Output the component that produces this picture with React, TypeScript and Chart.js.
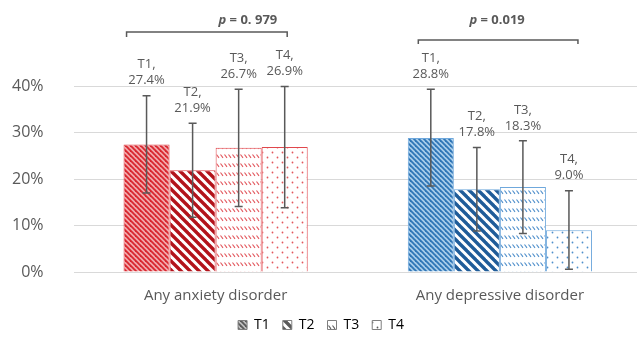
import React, { useEffect, useRef } from "react";
import { Chart, registerables } from "chart.js";

Chart.register(...registerables);

// ---------- data ----------
const categories = ["Any anxiety disorder", "Any depressive disorder"];
const seriesNames = ["T1", "T2", "T3", "T4"];

const t1Values = [0.274, 0.288];
const t2Values = [0.219, 0.178];
const t3Values = [0.267, 0.183];
const t4Values = [0.269, 0.09];

const t1Low = [0.17, 0.185];
const t1High = [0.379, 0.393];
const t2Low = [0.118, 0.088];
const t2High = [0.32, 0.268];
const t3Low = [0.141, 0.083];
const t3High = [0.393, 0.282];
const t4Low = [0.138, 0.006];
const t4High = [0.399, 0.175];

const yTicks = [0, 0.1, 0.2, 0.3, 0.4];
const yTickLabels = ["0%", "10%", "20%", "30%", "40%"];

const pValueTexts = ["0. 979", "0.019"];

const values = [t1Values, t2Values, t3Values, t4Values];
const lows = [t1Low, t2Low, t3Low, t4Low];
const highs = [t1High, t2High, t3High, t4High];

// ---------- styles ----------
const FONT = "'Open Sans', sans-serif";
const TEXT = "#595959";
const RED = "#D8262E";
const RED_SOFT = "#E2565C";
const RED_LIGHT = "#F2A9AC";
const RED_DARK = "#B3131B";
const RED_BORDER = "#E0474C";
const BLUE = "#2E75B6";
const BLUE_SOFT = "#4F8FCB";
const BLUE_LIGHT = "#A9CDEB";
const BLUE_DARK = "#1F5C99";
const BLUE_BORDER = "#6FA8DC";

function makePattern(kind: number, fg: string, bg: string): CanvasPattern {
  const c = document.createElement("canvas");
  let w = 5;
  let h = 5;
  if (kind === 1) { w = 9; h = 9; }
  if (kind === 2) { w = 4; h = 9; }
  if (kind === 3) { w = 10; h = 10; }
  c.width = w;
  c.height = h;
  const g = c.getContext("2d")!;
  g.fillStyle = bg;
  g.fillRect(0, 0, w, h);
  g.strokeStyle = fg;
  g.fillStyle = fg;
  if (kind === 0 || kind === 1) {
    g.lineWidth = kind === 0 ? 1.8 : 3.4;
    for (let k = -1; k <= 1; k++) {
      g.beginPath();
      g.moveTo(-2, -2 + k * w);
      g.lineTo(w + 2, w + 2 + k * w);
      g.stroke();
    }
  } else if (kind === 2) {
    g.lineWidth = 1.1;
    g.beginPath();
    g.moveTo(0.5, 1.5);
    g.lineTo(3, 4.8);
    g.stroke();
  } else {
    g.beginPath();
    g.arc(2.5, 2.5, 0.9, 0, Math.PI * 2);
    g.fill();
    g.beginPath();
    g.arc(7.5, 7.5, 0.9, 0, Math.PI * 2);
    g.fill();
  }
  return g.createPattern(c, "repeat")!;
}

const bracketCfg = [
  { from: -20, to: 2.5, y: 32, drop: 5, textDx: 41 },
  { from: -12.5, to: 9, y: 40, drop: 4, textDx: -1 },
];

const overlayPlugin = {
  id: "overlay",
  afterDatasetsDraw(chart: any) {
    const ctx = chart.ctx as CanvasRenderingContext2D;
    const yScale = chart.scales.y;
    ctx.save();
    // error bars and value labels
    chart.data.datasets.forEach((ds: any, di: number) => {
      const meta = chart.getDatasetMeta(di);
      meta.data.forEach((el: any, ci: number) => {
        const x = el.x;
        const yh = yScale.getPixelForValue(highs[di][ci]);
        const yl = yScale.getPixelForValue(lows[di][ci]);
        ctx.strokeStyle = TEXT;
        ctx.lineWidth = 1.5;
        ctx.beginPath();
        ctx.moveTo(x, yh);
        ctx.lineTo(x, yl);
        ctx.moveTo(x - 4, yh);
        ctx.lineTo(x + 4, yh);
        ctx.moveTo(x - 4, yl);
        ctx.lineTo(x + 4, yl);
        ctx.stroke();
        ctx.fillStyle = TEXT;
        ctx.font = `13px ${FONT}`;
        ctx.textAlign = "center";
        ctx.textBaseline = "middle";
        ctx.fillText(seriesNames[di] + ",", x, yh - 31);
        ctx.fillText((values[di][ci] * 100).toFixed(1) + "%", x, yh - 15);
      });
    });
    // brackets with p values
    const first = chart.getDatasetMeta(0);
    const last = chart.getDatasetMeta(3);
    categories.forEach((_, ci) => {
      const b = bracketCfg[ci];
      const x1 = first.data[ci].x + b.from;
      const x2 = last.data[ci].x + b.to;
      ctx.strokeStyle = TEXT;
      ctx.lineWidth = 1.5;
      ctx.beginPath();
      ctx.moveTo(x1, b.y + b.drop);
      ctx.lineTo(x1, b.y);
      ctx.lineTo(x2, b.y);
      ctx.lineTo(x2, b.y + b.drop);
      ctx.stroke();
      const cx = (x1 + x2) / 2 + b.textDx;
      const rest = " = " + pValueTexts[ci];
      ctx.font = `bold 13px ${FONT}`;
      const wRest = ctx.measureText(rest).width;
      ctx.font = `italic bold 13px ${FONT}`;
      const wP = ctx.measureText("p").width;
      const start = cx - (wP + wRest) / 2;
      ctx.textAlign = "left";
      ctx.textBaseline = "middle";
      ctx.fillStyle = TEXT;
      ctx.fillText("p", start, 20);
      ctx.font = `bold 13px ${FONT}`;
      ctx.fillText(rest, start + wP, 20);
    });
    ctx.restore();
  },
};

export default function App() {
  const ref = useRef<HTMLCanvasElement | null>(null);
  useEffect(() => {
    if (!ref.current) return;
    const redPats = [0, 1, 2, 3].map((k) =>
      makePattern(
        k,
        k === 0 ? RED : k === 1 ? RED_DARK : RED_SOFT,
        k === 0 ? RED_LIGHT : "#FFFFFF"
      )
    );
    const bluePats = [0, 1, 2, 3].map((k) =>
      makePattern(
        k,
        k === 0 ? BLUE : k === 1 ? BLUE_DARK : BLUE_SOFT,
        k === 0 ? BLUE_LIGHT : "#FFFFFF"
      )
    );
    const grayPats = [0, 1, 2, 3].map((k) =>
      makePattern(k, "#595959", k === 0 ? "#BFBFBF" : "#FFFFFF")
    );
    const chart = new Chart(ref.current, {
      type: "bar",
      data: {
        labels: categories,
        datasets: seriesNames.map((name, i) => ({
          label: name,
          data: values[i],
          backgroundColor: [redPats[i], bluePats[i]],
          borderColor: [RED_BORDER, BLUE_BORDER],
          borderWidth: 1,
          categoryPercentage: 0.648,
          barPercentage: 1,
        })),
      },
      options: {
        animation: false,
        responsive: false,
        layout: { padding: { top: 86, left: 0, right: 0, bottom: 3 } },
        plugins: {
          tooltip: { enabled: false },
          legend: {
            position: "bottom",
            labels: {
              color: TEXT,
              font: { family: FONT, size: 14 },
              boxWidth: 9,
              boxHeight: 9,
              padding: 13,
              generateLabels: () =>
                seriesNames.map((n, i) => ({
                  text: n,
                  fillStyle: grayPats[i] as any,
                  strokeStyle: "#7F7F7F",
                  lineWidth: 1,
                  datasetIndex: i,
                  hidden: false,
                })),
            },
          },
        },
        scales: {
          x: {
            grid: { display: false, drawTicks: false },
            border: { display: false },
            ticks: { color: TEXT, font: { family: FONT, size: 15 }, padding: 15 },
            afterFit: (scale: any) => {
              scale.height = 33;
            },
          },
          y: {
            min: 0,
            max: 0.4,
            afterBuildTicks: (scale: any) => {
              scale.ticks = yTicks.map((v) => ({ value: v }));
            },
            afterFit: (scale: any) => {
              scale.width = 73.5;
            },
            grid: { color: "#D9D9D9", lineWidth: 1, drawTicks: false },
            border: { display: false },
            ticks: {
              color: TEXT,
              font: { family: FONT, size: 16 },
              padding: 30,
              callback: (v: any) => {
                const idx = yTicks.findIndex((t) => Math.abs(t - Number(v)) < 1e-9);
                return idx >= 0 ? yTickLabels[idx] : "";
              },
            },
          },
        },
      },
      plugins: [overlayPlugin],
    });
    return () => chart.destroy();
  }, []);
  return (
    <div
      style={{
        position: "fixed",
        left: 0,
        top: 0,
        width: 637,
        height: 345,
        overflow: "hidden",
        background: "#FFFFFF",
      }}
    >
      <canvas ref={ref} width={642} height={345} style={{ display: "block" }} />
    </div>
  );
}
